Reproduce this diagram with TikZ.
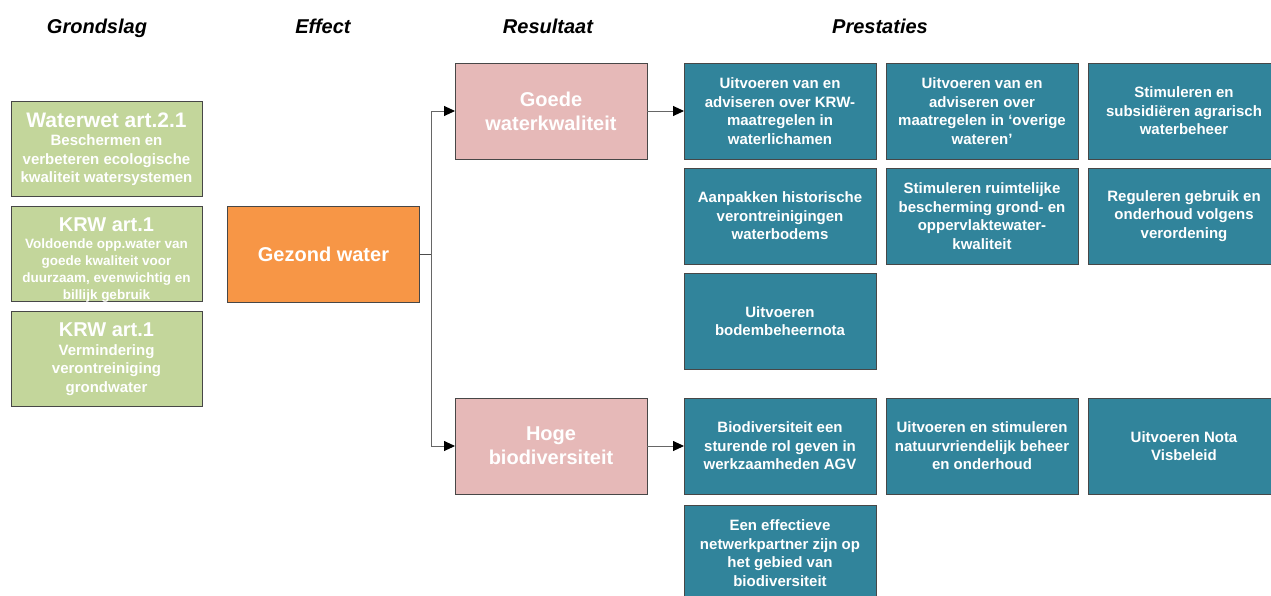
\documentclass[tikz,border=0pt]{standalone}
\usepackage{fontspec}
\setmainfont{Liberation Sans}
\usetikzlibrary{positioning,arrows.meta}
\definecolor{grondgroen}{HTML}{C3D69B}
\definecolor{effectoranje}{HTML}{F79646}
\definecolor{resultroze}{HTML}{E6B9B8}
\definecolor{prestblauw}{HTML}{31849B}
\newcommand{\groot}{\fontsize{20}{23}\selectfont}

\tikzset{
  blok/.style={draw=black!72, line width=0.8pt, minimum width=192pt, minimum height=96pt,
    inner sep=0pt, outer sep=0pt, align=center, text=white,
    font=\bfseries\fontsize{15}{18.5}\selectfont},
  grond/.style={blok, fill=grondgroen, minimum width=191pt, minimum height=95pt},
  effect/.style={blok, fill=effectoranje, font=\bfseries\groot},
  resultaat/.style={blok, fill=resultroze, font=\bfseries\fontsize{20}{24}\selectfont},
  prestatie/.style={blok, fill=prestblauw},
  kop/.style={font=\bfseries\itshape\fontsize{20}{23}\selectfont, text=black, anchor=base},
  pijl/.style={draw=black!60, line width=0.9pt, -{Triangle[length=11pt,width=10pt,color=black]}},
  lijn/.style={draw=black!70, line width=0.9pt}
}

\begin{document}
\begin{tikzpicture}[x=1pt,y=-1pt]
      \useasboundingbox (0,0) rectangle (1271,595);
      % koppen
      \node[kop] (h1) at (97,33) {Grondslag};
      \node[kop] (h2) at (323,33) {Effect};
      \node[kop] (h3) at (548,33) {Resultaat};
      \node[kop] (h4) at (880,33) {Prestaties};

      % grondslag
      \node[grond] (g1) at (106.5,149) {{\fontsize{21}{24}\selectfont Waterwet art.2.1}\\Beschermen en\\verbeteren ecologische\\kwaliteit watersystemen};
      \node[grond, below=10pt of g1] (g2) {};
      \node[align=center, text=white, inner sep=0pt, yshift=-6pt, font=\bfseries\fontsize{13.5}{17}\selectfont] (g2t) at (g2) {{\groot KRW art.1}\\Voldoende opp.water van\\goede kwaliteit voor\\duurzaam, evenwichtig en\\billijk gebruik};
      \node[grond, below=10pt of g2] (g3) {{\groot KRW art.1}\\Vermindering\\verontreiniging\\grondwater};

      % effect en resultaat
      \node[effect] (e) at (323.5,254.5) {Gezond water};
      \node[resultaat] (r1) at (551,111) {Goede\\waterkwaliteit};
      \node[resultaat] (r2) at (551,446) {Hoge\\biodiversiteit};

      % prestaties
      \node[prestatie, right=37pt of r1] (p11) {Uitvoeren van en\\adviseren over KRW-\\maatregelen in\\waterlichamen};
      \node[prestatie, right=10pt of p11] (p12) {Uitvoeren van en\\adviseren over\\maatregelen in `overige\\wateren'};
      \node[prestatie, right=10pt of p12] (p13) {Stimuleren en\\subsidi\"eren agrarisch\\waterbeheer};
      \node[prestatie, below=9pt of p11] (p21) {Aanpakken historische\\verontreinigingen\\waterbodems};
      \node[prestatie, right=10pt of p21] (p22) {Stimuleren ruimtelijke\\bescherming grond- en\\oppervlaktewater-\\kwaliteit};
      \node[prestatie, right=10pt of p22] (p23) {Reguleren gebruik en\\onderhoud volgens\\verordening};
      \node[prestatie, below=9pt of p21] (p31) {Uitvoeren\\bodembeheernota};

      \node[prestatie, right=37pt of r2] (p41) {Biodiversiteit een\\sturende rol geven in\\werkzaamheden AGV};
      \node[prestatie, right=10pt of p41] (p42) {Uitvoeren en stimuleren\\natuurvriendelijk beheer\\en onderhoud};
      \node[prestatie, right=10pt of p42] (p43) {Uitvoeren Nota\\Visbeleid};
      \node[prestatie, below=11pt of p41] (p51) {Een effectieve\\netwerkpartner zijn op\\het gebied van\\biodiversiteit};

      % verbindingen
      \coordinate (splits) at ([xshift=12pt]e.east);
      \draw[lijn] (e) -- (splits);
      \draw[pijl] (splits) |- (r1);
      \draw[pijl] (splits) |- (r2);
      \draw[pijl] (r1) -- (p11);
      \draw[pijl] (r2) -- (p41);
    \end{tikzpicture}
\end{document}
